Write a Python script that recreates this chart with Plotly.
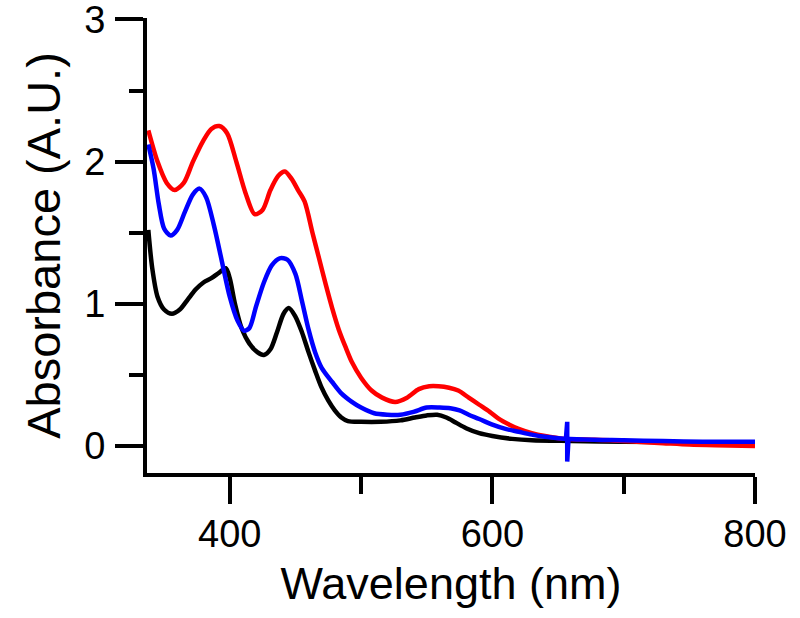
import plotly.graph_objects as go

# ---- data ----
red_wl = [338, 345, 352, 358, 365, 372, 380, 386, 392, 398, 405, 412, 419, 425, 431, 437, 442, 447,
          452, 457, 463, 468, 473, 478, 483, 488, 493, 500, 508, 516, 526, 535, 544, 552, 559, 567,
          574, 582, 590, 598, 605, 613, 620, 630, 640, 655, 670, 690, 710, 730, 750, 770, 800]
red_abs = [2.22, 2.00, 1.85, 1.80, 1.85, 2.00, 2.15, 2.23, 2.25, 2.20, 2.00, 1.78, 1.63, 1.66, 1.80,
           1.90, 1.93, 1.88, 1.80, 1.72, 1.50, 1.32, 1.14, 0.97, 0.82, 0.70, 0.59, 0.48, 0.39, 0.34,
           0.31, 0.34, 0.40, 0.42, 0.42, 0.41, 0.39, 0.34, 0.29, 0.24, 0.19, 0.15, 0.12, 0.09, 0.07,
           0.05, 0.045, 0.04, 0.03, 0.02, 0.01, 0.005, 0.0]

blue_wl = [338, 342, 346, 350, 355, 360, 366, 372, 377, 382, 388, 394, 400, 406, 411, 415, 420, 426,
           432, 438, 444, 450, 455, 460, 465, 470, 478, 485, 493, 500, 510, 520, 530, 540, 550, 560,
           568, 575, 582, 590, 600, 610, 620, 630, 640, 650, 670, 700, 730, 760, 800]
blue_abs = [2.12, 1.95, 1.70, 1.53, 1.48, 1.52, 1.65, 1.77, 1.81, 1.75, 1.55, 1.30, 1.05, 0.88, 0.81,
            0.83, 0.98, 1.15, 1.27, 1.32, 1.31, 1.21, 1.02, 0.82, 0.66, 0.55, 0.45, 0.37, 0.31, 0.27,
            0.23, 0.22, 0.22, 0.24, 0.27, 0.27, 0.265, 0.25, 0.22, 0.19, 0.15, 0.12, 0.10, 0.08, 0.065,
            0.055, 0.045, 0.04, 0.035, 0.03, 0.03]

# lamp-change glitch in the blue spectrum
blue_spike_wl = [656, 657, 657, 658]
blue_spike_abs = [0.05, 0.17, -0.11, 0.05]

black_wl = [338, 341, 345, 350, 356, 362, 368, 374, 380, 386, 392, 397, 400, 404, 409, 415, 421, 426,
            431, 436, 441, 445, 450, 455, 460, 465, 470, 475, 480, 485, 490, 500, 515, 530, 541, 550,
            558, 565, 572, 580, 590, 600, 615, 630, 660, 700, 750, 800]
black_abs = [1.52, 1.25, 1.05, 0.96, 0.93, 0.96, 1.03, 1.10, 1.15, 1.18, 1.22, 1.25, 1.18, 1.00, 0.83,
             0.72, 0.66, 0.64, 0.68, 0.80, 0.93, 0.97, 0.91, 0.80, 0.66, 0.53, 0.41, 0.32, 0.25, 0.20,
             0.175, 0.17, 0.17, 0.18, 0.20, 0.215, 0.22, 0.20, 0.165, 0.125, 0.09, 0.07, 0.05, 0.04,
             0.035, 0.03, 0.025, 0.02]

x_ticks = [400, 600, 800]
y_ticks = [0, 1, 2, 3]

FONT = "Liberation Sans, Arial, sans-serif"
LW = 4.5

fig = go.Figure()
fig.add_trace(go.Scatter(x=black_wl, y=black_abs, mode="lines",
                         line=dict(color="#000000", width=LW, shape="spline", smoothing=0.8)))
fig.add_trace(go.Scatter(x=red_wl, y=red_abs, mode="lines",
                         line=dict(color="#ff0000", width=LW, shape="spline", smoothing=0.8)))
fig.add_trace(go.Scatter(x=blue_wl, y=blue_abs, mode="lines",
                         line=dict(color="#0000ff", width=LW, shape="spline", smoothing=0.8)))
fig.add_trace(go.Scatter(x=blue_spike_wl, y=blue_spike_abs, mode="lines",
                         line=dict(color="#0000ff", width=LW)))

fig.update_layout(
    width=800, height=618,
    margin=dict(l=147, r=45, t=18, b=145),
    paper_bgcolor="white", plot_bgcolor="white",
    showlegend=False,
    font=dict(family=FONT, color="black"),
)
fig.update_xaxes(
    range=[337, 800], showgrid=False, zeroline=False, automargin=False,
    showline=True, linecolor="black", linewidth=4,
    tickmode="array", tickvals=x_ticks, ticks="outside", ticklen=27, tickwidth=4, tickcolor="black",
    ticklabelstandoff=-3, ticklabeloverflow="allow",
    tickfont=dict(size=38, family=FONT, color="black"),
    minor=dict(ticks="outside", dtick=100, tick0=0, ticklen=17, tickwidth=4, tickcolor="black"),
    title=dict(text="Wavelength (nm)", font=dict(size=45, family=FONT, color="black"), standoff=15),
)
fig.update_yaxes(
    range=[-0.19, 3.01], showgrid=False, zeroline=False, automargin=False,
    showline=True, linecolor="black", linewidth=4,
    tickmode="array", tickvals=y_ticks, ticks="outside", ticklen=28, tickwidth=4, tickcolor="black",
    ticklabelstandoff=2, ticklabeloverflow="allow",
    tickfont=dict(size=38, family=FONT, color="black"),
    minor=dict(ticks="outside", dtick=0.5, tick0=0, ticklen=14, tickwidth=4, tickcolor="black"),
    title=dict(text="Absorbance (A.U.)", font=dict(size=47, family=FONT, color="black"), standoff=10),
)

fig.write_html("out.html", config={"displayModeBar": False},
               post_script="document.body.style.margin='0';")
